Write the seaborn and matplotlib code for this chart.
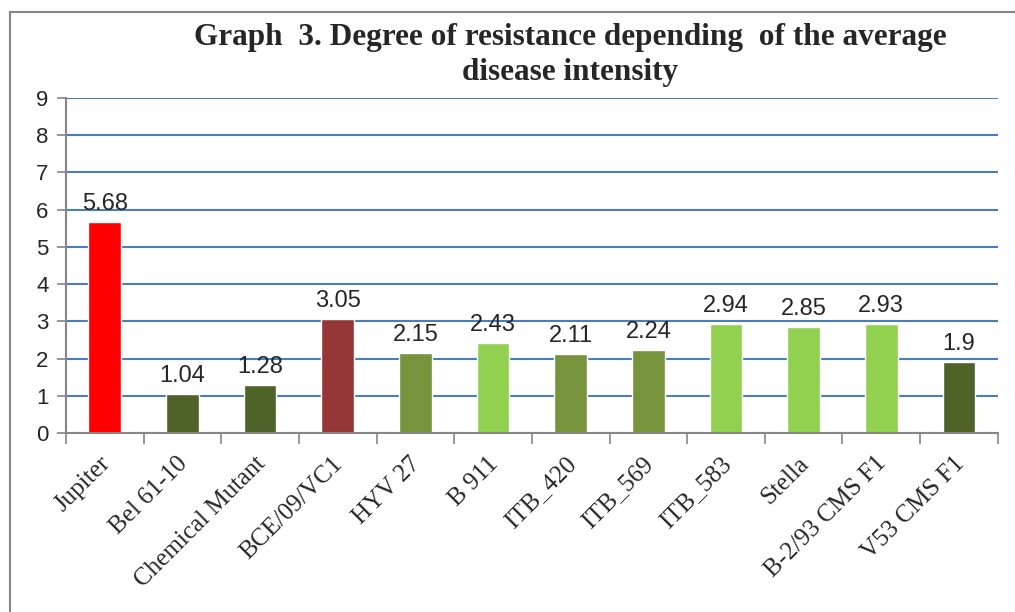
import matplotlib.pyplot as plt
import matplotlib.transforms as mtransforms
import seaborn as sns
import numpy as np
from matplotlib.lines import Line2D

# Data
varieties = ["Jupiter", "Bel 61-10", "Chemical Mutant", "BCE/09/VC1", "HYV 27", "B 911",
             "ITB_420", "ITB_569", "ITB_583", "Stella", "B-2/93 CMS F1", "V53 CMS F1"]
intensity = [5.68, 1.04, 1.28, 3.05, 2.15, 2.43, 2.11, 2.24, 2.94, 2.85, 2.93, 1.9]
bar_colors = ["#FF0000", "#4F6228", "#4F6228", "#953735", "#77933C", "#92D050",
              "#77933C", "#77933C", "#92D050", "#92D050", "#92D050", "#4F6228"]
value_text = ["5.68", "1.04", "1.28", "3.05", "2.15", "2.43", "2.11", "2.24", "2.94", "2.85", "2.93", "1.9"]

sns.set_theme(style="white")
plt.rcParams['font.family'] = ['Liberation Sans', 'DejaVu Sans']

fig = plt.figure(figsize=(10.15, 6.12), dpi=100)
ax = fig.add_axes([0.065, 0.2925, 0.918, 0.5475])

sns.barplot(x=varieties, y=intensity, hue=varieties, palette=bar_colors,
            legend=False, width=0.42, saturation=1, ax=ax)

ax.set_ylim(0, 9)
ax.set_xlim(-0.5, len(varieties) - 0.5)
ax.set_yticks(range(0, 10))
ax.tick_params(axis='y', labelsize=16, length=6.5, width=1.2, color="#868686",
               direction='out', left=True, pad=6)

# Excel-style gridlines
for y in range(1, 10):
    ax.axhline(y, color="#4A7EBB", linewidth=1.5, zorder=0)

for side in ["top", "right"]:
    ax.spines[side].set_visible(False)
for side in ["left", "bottom"]:
    ax.spines[side].set_color("#868686")
    ax.spines[side].set_linewidth(1.5)

# tick marks between categories
ax.set_xticks(np.arange(-0.5, len(varieties)), minor=True)
ax.tick_params(axis='x', which='minor', length=8, color="#868686", width=1.2, bottom=True)
ax.tick_params(axis='x', which='major', length=0, pad=14)
ax.set_xticks(range(len(varieties)))
ax.set_xticklabels(varieties, rotation=45, ha='right', rotation_mode='anchor',
                   fontsize=18, family='Liberation Serif')
shift = mtransforms.ScaledTranslation(-6 / 100, 0, fig.dpi_scale_trans)
for lbl in ax.get_xticklabels():
    lbl.set_transform(lbl.get_transform() + shift)

for i, c in enumerate(ax.containers):
    ax.bar_label(c, labels=[value_text[i]], padding=5, fontsize=17)

ax.set_xlabel("")
ax.set_ylabel("")

fig.text(0.562, 0.962, "Graph  3. Degree of resistance depending  of the average\ndisease intensity",
         ha='center', va='top', fontsize=22.5, fontweight='bold', family='Liberation Serif',
         linespacing=1.25)

# outer chart border
fig.add_artist(Line2D([10 / 1015, 10 / 1015], [0, 1 - 12 / 612], transform=fig.transFigure,
                      color="#868686", linewidth=1.5))
fig.add_artist(Line2D([10 / 1015, 1], [1 - 12 / 612, 1 - 12 / 612], transform=fig.transFigure,
                      color="#868686", linewidth=1.5))

fig.savefig("out.png", dpi=100)
